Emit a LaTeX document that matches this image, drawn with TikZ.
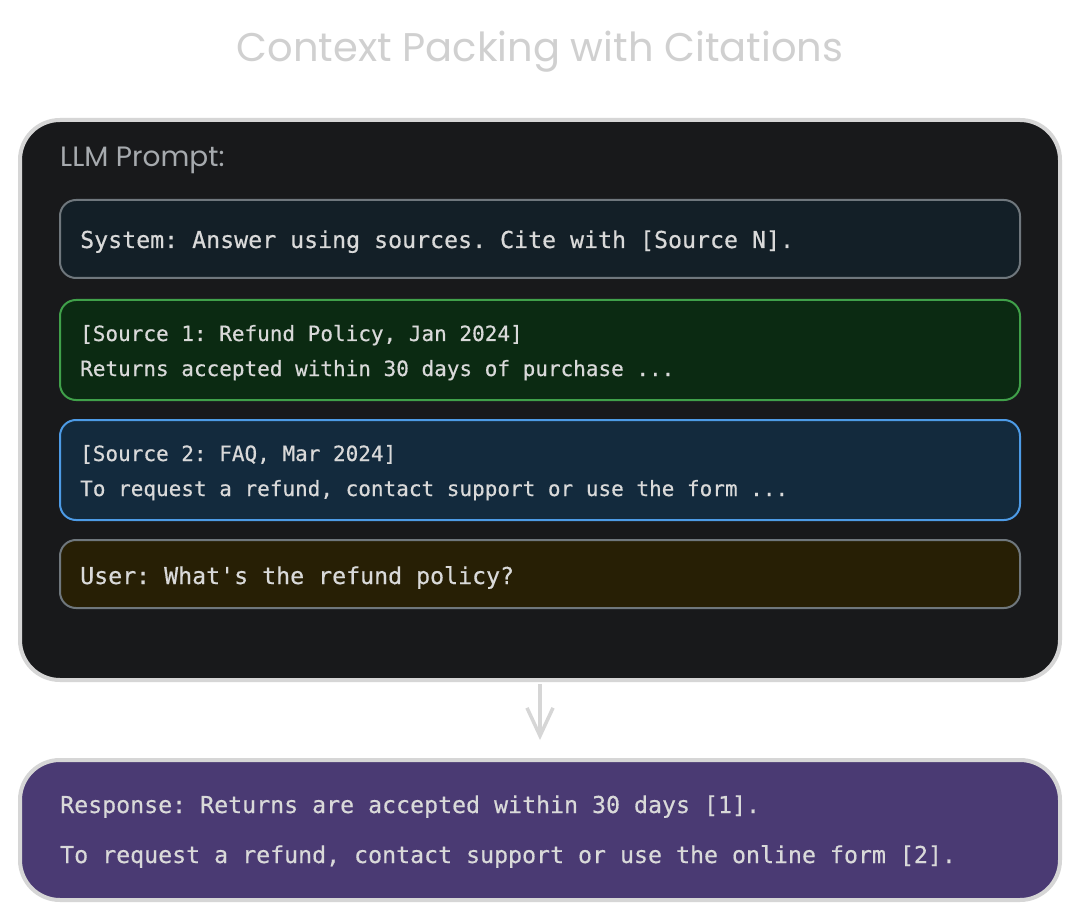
\documentclass[tikz,border=0pt]{standalone}
\usepackage{fontspec}
\setmainfont{Poppins}
\newfontfamily\codefont{DejaVu Sans Mono}[FakeBold=0.5]
\usetikzlibrary{arrows.meta}

\definecolor{ttlgray}{HTML}{D0D0D0}
\definecolor{edgegray}{HTML}{D6D6D6}
\definecolor{promptbg}{HTML}{18191B}
\definecolor{labelgray}{HTML}{A6AAAE}
\definecolor{msgtext}{HTML}{D9D9D9}
\definecolor{sysbg}{HTML}{131F27}
\definecolor{sysedge}{HTML}{6F777D}
\definecolor{srcabg}{HTML}{0B2A12}
\definecolor{srcaedge}{HTML}{40A04A}
\definecolor{srcbbg}{HTML}{132A3D}
\definecolor{srcbedge}{HTML}{4D9BE6}
\definecolor{userbg}{HTML}{271F05}
\definecolor{respbg}{HTML}{4A3A73}

\begin{document}
\frenchspacing
\begin{tikzpicture}[x=1pt,y=1pt,
  panel/.style={draw=edgegray,line width=4pt,rounded corners=40pt,minimum width=1040pt,inner sep=0pt},
  msg/.style={line width=2pt,rounded corners=16pt,minimum width=960pt,inner sep=0pt},
  txt/.style={anchor=base west,inner sep=0pt,text=msgtext,font=\codefont\frenchspacing\fontsize{23.25}{28}\selectfont},
  smalltxt/.style={txt,font=\codefont\frenchspacing\fontsize{21}{25}\selectfont}]
\useasboundingbox (0,0) rectangle (1080,-920);
\fill[white] (0,0) rectangle (1080,-920);
\node[anchor=base,inner sep=0pt,text=ttlgray,font=\fontsize{40}{44}\selectfont] (title) at (540,-62) {Context Packing with Citations};
\node[panel,fill=promptbg,minimum height=560pt] (prompt) at (540,-400) {};
\node[anchor=base west,inner sep=0pt,text=labelgray,font=\fontsize{28}{32}\selectfont] (promptlbl) at (60,-167) {LLM Prompt:};
\node[msg,draw=sysedge,fill=sysbg,minimum height=78pt] (sys) at (540,-239) {};
\node[txt] (systxt) at (80,-248) {System: Answer using sources. Cite with [Source N].};
\node[msg,draw=srcaedge,fill=srcabg,minimum height=100pt] (srca) at (540,-350) {};
\node[smalltxt] (srcahead) at (80,-341) {[Source 1: Refund Policy, Jan 2024]};
\node[smalltxt] (srcabody) at (80,-376) {Returns accepted within 30 days of purchase ...};
\node[msg,draw=srcbedge,fill=srcbbg,minimum height=100pt] (srcb) at (540,-470) {};
\node[smalltxt] (srcbhead) at (80,-461) {[Source 2: FAQ, Mar 2024]};
\node[smalltxt] (srcbbody) at (80,-496) {To request a refund, contact support or use the form ...};
\node[msg,draw=sysedge,fill=userbg,minimum height=68pt] (user) at (540,-574) {};
\node[txt] (usertxt) at (80,-584) {User: What's the refund policy?};
\node[panel,fill=respbg,minimum height=140pt] (resp) at (540,-830) {};
\node[txt] (respa) at (60,-813) {Response: Returns are accepted within 30 days [1].};
\node[txt] (respb) at (60,-863) {To request a refund, contact support or use the online form [2].};
\draw[edgegray,line width=3.5pt,-{Straight Barb[length=28pt,width=26pt,line width=3.5pt]},shorten <=2pt,shorten >=18pt] (prompt.south) -- (resp.north);
\end{tikzpicture}
\end{document}
